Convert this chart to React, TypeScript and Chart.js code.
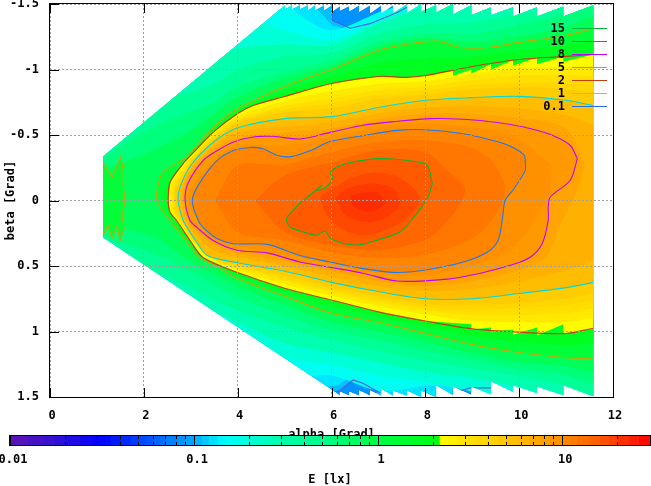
import React, { useEffect, useRef } from "react";
import { Chart, registerables } from "chart.js";

Chart.register(...registerables);

type Pt = [number, number];

const xTickValues = [0, 2, 4, 6, 8, 10, 12];
const yTickValues = [-1.5, -1, -0.5, 0, 0.5, 1, 1.5];
const FONT = '"DejaVu Sans Mono", monospace';

// Palette: value, r, g, b
const paletteStops: number[][] = [
  [0.01, 95, 20, 180], [0.02, 40, 15, 220], [0.0305, 0, 0, 255], [0.0447, 0, 50, 255],
  [0.1, 0, 170, 255], [0.146, 0, 255, 255], [0.2, 0, 255, 215], [0.3, 0, 255, 170],
  [0.543, 0, 255, 130], [1, 0, 255, 70], [2.0, 0, 255, 20], [2.12, 0, 255, 15],
  [2.15, 255, 255, 0], [3, 255, 225, 0], [4, 255, 210, 0], [5.85, 255, 185, 0],
  [9.9, 255, 140, 0], [16, 255, 90, 0], [30, 255, 0, 0],
];
const barEdges = [0.01, 0.0125, 0.015, 0.0175, 0.02, 0.024, 0.028, 0.0305, 0.035, 0.04, 0.045, 0.05, 0.055, 0.06, 0.065, 0.07, 0.08, 0.09, 0.1, 0.11, 0.12, 0.134, 0.146, 0.16, 0.18, 0.2, 0.23, 0.26, 0.3, 0.34, 0.38, 0.43, 0.48, 0.54, 0.62, 0.7, 0.8, 0.9, 1, 1.15, 1.3, 1.5, 1.75, 2, 2.15, 2.4, 2.7, 3, 3.4, 3.8, 4.4, 5, 5.85, 6.6, 7.5, 8.5, 9.9, 11, 12, 14, 16, 18, 20, 23, 26, 30];
const barTicks = [0.01, 0.02, 0.03, 0.04, 0.05, 0.06, 0.07, 0.08, 0.09, 0.1, 0.2, 0.3, 0.4, 0.5, 0.6, 0.7, 0.8, 0.9, 1, 2, 3, 4, 5, 6, 7, 8, 9, 10, 20, 30];
const barLabels = [0.01, 0.1, 1, 10];

// Outline of the sampled region (alpha, beta)
const envelope: Pt[] = [
  [1.13, -0.335], [4.84, -1.44], [5.01, -1.49], [5.01, -1.46], [5.16, -1.49], [5.16, -1.46], [5.33, -1.49], [5.33, -1.46], [5.5, -1.49], [5.5, -1.45], [5.65, -1.49], [5.65, -1.45], [5.84, -1.49], [5.84, -1.45], [6.01, -1.49], [6.01, -1.44], [6.18, -1.485], [6.18, -1.45], [6.38, -1.485], [6.38, -1.445], [6.59, -1.49], [6.59, -1.44], [6.82, -1.49], [6.82, -1.43], [7.06, -1.49], [7.06, -1.43], [7.31, -1.49], [7.31, -1.43], [7.61, -1.5], [7.61, -1.43], [7.91, -1.5], [7.91, -1.44], [8.23, -1.49], [8.23, -1.435], [8.59, -1.5], [8.59, -1.42], [8.98, -1.49], [8.98, -1.415], [9.4, -1.475], [9.4, -1.415], [9.87, -1.475], [9.87, -1.405], [10.38, -1.475], [10.38, -1.405], [10.94, -1.48], [10.94, -1.405], [11.58, -1.49],
  [11.58, 1.495], [10.94, 1.41], [10.94, 1.485], [10.38, 1.42], [10.38, 1.47], [9.87, 1.41], [9.87, 1.46], [9.4, 1.38], [9.4, 1.48], [8.98, 1.42], [8.98, 1.485], [8.59, 1.42], [8.59, 1.485], [8.23, 1.41], [8.23, 1.5], [7.91, 1.45], [7.91, 1.5], [7.61, 1.45], [7.61, 1.49], [7.31, 1.45], [7.31, 1.49], [7.06, 1.435], [7.06, 1.49], [6.82, 1.45], [6.82, 1.49], [6.59, 1.45], [6.59, 1.49], [6.38, 1.46], [6.38, 1.49], [6.18, 1.46], [6.18, 1.49], [6.01, 1.445], [5.93, 1.425], [1.13, 0.28],
];

// Labelled contours
const iso01a: Pt[] = [[6.01, -1.475], [6.01, -1.375], [6.4, -1.315], [6.82, -1.35], [7.4, -1.435], [7.61, -1.475]];
const iso01b: Pt[] = [[6.01, 1.465], [6.18, 1.45], [6.46, 1.37], [6.67, 1.395], [7.04, 1.47]];
const iso01c: Pt[] = [[8.74, 1.455], [8.96, 1.43], [9.45, 1.43], [9.87, 1.47]];
const iso1: Pt[] = [[11.58, -1.315], [11, -1.26], [10, -1.207], [9.35, -1.168], [8.75, -1.168], [8.3, -1.215], [7.73, -1.2], [7, -1.145], [6, -1.0], [5.07, -0.88], [4, -0.7], [3.5, -0.565], [3, -0.367], [2.92, -0.33], [2.41, -0.215], [2.28, -0.078], [2.28, 0.0], [2.35, 0.053], [2.56, 0.153], [2.84, 0.28], [3.2, 0.44], [3.52, 0.495], [4, 0.595], [5, 0.73], [6, 0.86], [7, 0.93], [8, 1.015], [9, 1.1], [10, 1.16], [11, 1.2], [11.58, 1.21]];
const iso1Island: Pt[] = [[1.13, -0.29], [1.32, -0.175], [1.43, -0.265], [1.51, -0.335], [1.56, -0.23], [1.56, -0.115], [1.6, 0], [1.535, 0.115], [1.58, 0.215], [1.49, 0.31], [1.43, 0.19], [1.32, 0.29], [1.24, 0.19], [1.13, 0.265]];
const iso2: Pt[] = [[11.58, -1.115], [11, -1.1], [10, -1.076], [9, -1.023], [8, -0.954], [7.6, -0.94], [7, -0.947], [6, -0.893], [5, -0.794], [4.33, -0.725], [4, -0.664], [3.5, -0.527], [3, -0.344], [2.84, -0.282], [2.56, -0.139], [2.52, 0], [2.56, 0.09], [2.7, 0.153], [2.985, 0.305], [3.26, 0.435], [4, 0.55], [5, 0.67], [6, 0.76], [7, 0.85], [8, 0.92], [9, 0.98], [10, 1.005], [11, 1.015], [11.58, 0.975]];
const iso5: Pt[] = [[11.58, -0.725], [11, -0.765], [10, -0.795], [9, -0.785], [8, -0.765], [7, -0.71], [6, -0.64], [5, -0.625], [4, -0.555], [3.5, -0.45], [3, -0.267], [2.77, -0.1], [2.73, 0], [2.84, 0.153], [3, 0.25], [3.13, 0.32], [3.35, 0.42], [4, 0.475], [5, 0.54], [6, 0.625], [7, 0.695], [8, 0.75], [9, 0.75], [10, 0.71], [11, 0.665], [11.58, 0.625]];
const iso8: Pt[] = [[11.24, -0.32], [11.09, -0.42], [10.73, -0.495], [10.23, -0.55], [9.53, -0.595], [8.81, -0.62], [8.1, -0.625], [7.4, -0.605], [6.67, -0.575], [5.97, -0.52], [5.33, -0.47], [4.75, -0.49], [4.33, -0.485], [3.9, -0.445], [3.56, -0.38], [3.26, -0.305], [2.94, -0.13], [2.88, 0], [2.985, 0.153], [3.13, 0.205], [3.475, 0.305], [3.99, 0.38], [4.63, 0.4], [5.33, 0.47], [5.97, 0.51], [6.67, 0.555], [7.4, 0.615], [8.46, 0.6], [9.17, 0.555], [9.81, 0.495], [10.23, 0.435], [10.49, 0.33], [10.62, 0.15], [10.62, 0.05], [10.66, -0.025], [11.09, -0.155], [11.24, -0.32]];
const iso10: Pt[] = [[10.13, -0.3], [10.11, -0.345], [9.87, -0.405], [9.53, -0.45], [8.81, -0.51], [8, -0.54], [7.4, -0.535], [6.67, -0.495], [5.97, -0.45], [5.54, -0.38], [5.12, -0.335], [4.84, -0.345], [4.54, -0.395], [4.26, -0.405], [3.9, -0.38], [3.56, -0.305], [3.2, -0.14], [3.03, 0], [3.16, 0.153], [3.26, 0.205], [3.56, 0.29], [3.9, 0.33], [4.63, 0.335], [5.33, 0.42], [5.97, 0.47], [6.67, 0.52], [7.4, 0.55], [8.1, 0.525], [8.81, 0.47], [9.32, 0.395], [9.55, 0.305], [9.64, 0.15], [9.7, 0], [9.87, -0.08], [10.13, -0.23], [10.13, -0.3]];
const iso15: Pt[] = [[8.15, -0.13], [8.04, -0.27], [7.74, -0.3], [7.04, -0.32], [6.4, -0.29], [6.12, -0.255], [5.97, -0.21], [6.03, -0.18], [5.86, -0.095], [5.69, -0.08], [5.8, -0.115], [5.48, -0.025], [5.33, 0.02], [5.05, 0.13], [5.05, 0.165], [5.12, 0.205], [5.48, 0.25], [5.69, 0.265], [5.86, 0.235], [5.97, 0.285], [6.18, 0.32], [6.57, 0.34], [7.04, 0.295], [7.46, 0.24], [7.72, 0.145], [8.04, -0.015], [8.15, -0.13]];

// Shading bands: outline of the region above each shade
const band010: Pt[] = [[1.1, -1.6], [5.8, -1.6], [6.01, -1.475], [6.01, -1.375], [6.4, -1.315], [6.82, -1.35], [7.4, -1.435], [7.61, -1.475], [7.8, -1.6], [11.6, -1.6], [11.6, 1.6], [10, 1.6], [9.87, 1.47], [9.45, 1.43], [8.96, 1.43], [8.74, 1.455], [8.6, 1.6], [7.2, 1.6], [7.04, 1.47], [6.67, 1.395], [6.46, 1.37], [6.18, 1.45], [6.01, 1.465], [5.85, 1.6], [1.1, 1.6]];
const band0125: Pt[] = [[1.1, -0.9], [5, -1.6], [5.6, -1.5], [6, -1.34], [6.4, -1.3], [6.82, -1.33], [7.4, -1.415], [7.7, -1.47], [8, -1.6], [11.6, -1.6], [11.6, 1.6], [10.2, 1.6], [9.9, 1.45], [9.45, 1.4], [8.96, 1.4], [8.6, 1.43], [8.4, 1.6], [7.2, 1.6], [6.9, 1.42], [6.6, 1.36], [6.4, 1.34], [6.15, 1.41], [5.9, 1.42], [5.7, 1.6], [1.1, 1.6]];
const band015: Pt[] = [[1.1, -0.8], [4.7, -1.6], [5.33, -1.415], [6, -1.3], [7, -1.435], [7.4, -1.49], [7.7, -1.6], [11.6, -1.6], [11.6, 1.6], [10.5, 1.6], [10.2, 1.525], [9.1, 1.465], [8.25, 1.41], [7, 1.45], [6, 1.335], [5, 1.36], [4, 1.3], [1.1, 0.7]];
const band018: Pt[] = [[1.1, -0.7], [3, -1.1], [4, -1.28], [4.3, -1.375], [5, -1.3], [6, -1.225], [7, -1.39], [7.61, -1.505], [8, -1.6], [11.6, -1.6], [11.6, 1.6], [9.9, 1.6], [9, 1.46], [8, 1.385], [7, 1.335], [6, 1.255], [5, 1.205], [4, 1.065], [3, 0.85], [1.1, 0.55]];
const band025: Pt[] = [[1.1, -0.6], [3, -0.995], [3.5, -1.085], [4, -1.16], [5, -1.19], [6, -1.185], [7, -1.345], [8, -1.475], [9, -1.51], [10, -1.6], [11.6, -1.6], [11.6, 1.6], [11, 1.51], [10, 1.43], [9, 1.355], [8, 1.31], [7, 1.235], [6, 1.16], [5, 1.09], [4, 0.93], [3, 0.76], [1.1, 0.5]];
const band035: Pt[] = [[1.1, -0.4], [2.35, -0.765], [3, -0.825], [3.5, -0.89], [4, -0.995], [5, -1.1], [6, -1.125], [7, -1.27], [8, -1.345], [9, -1.36], [10, -1.42], [11, -1.48], [11.6, -1.53], [11.6, 1.465], [11, 1.41], [10, 1.34], [9, 1.28], [8, 1.22], [7, 1.145], [6, 1.065], [5, 0.965], [4, 0.84], [3, 0.67], [1.1, 0.35]];
const band05: Pt[] = [[1.1, -0.31], [1.71, -0.46], [2.28, -0.575], [3, -0.675], [3.5, -0.75], [4, -0.865], [5, -0.98], [6, -1.07], [7, -1.21], [8, -1.275], [9, -1.27], [10, -1.34], [11, -1.42], [11.6, -1.475], [11.6, 1.37], [11, 1.335], [10, 1.285], [9, 1.22], [8, 1.145], [7, 1.065], [6, 0.99], [5, 0.875], [4, 0.74], [3.5, 0.645], [3, 0.545], [2.28, 0.415], [1.71, 0.34], [1.1, 0.27]];
const band07: Pt[] = [[1.1, -0.245], [1.71, -0.31], [2.28, -0.4], [3, -0.535], [3.5, -0.665], [4, -0.79], [5, -0.935], [6, -1.03], [7, -1.18], [8, -1.24], [9, -1.21], [10, -1.255], [11, -1.325], [11.6, -1.385], [11.6, 1.29], [11, 1.265], [10, 1.235], [9, 1.165], [8, 1.08], [7, 1.0], [6, 0.93], [5, 0.8], [4, 0.66], [3.5, 0.565], [3, 0.47], [2.28, 0.29], [1.71, 0.225], [1.1, 0.21]];
const band15: Pt[] = [[11.6, -1.215], [11, -1.185], [10, -1.145], [9, -1.1], [8, -1.085], [7, -1.05], [6, -0.95], [5, -0.835], [4, -0.69], [3.5, -0.55], [3, -0.355], [2.6, -0.17], [2.42, -0.08], [2.4, 0], [2.55, 0.12], [2.8, 0.26], [3, 0.325], [3.5, 0.48], [4, 0.57], [5, 0.7], [6, 0.805], [7, 0.885], [8, 0.96], [9, 1.035], [10, 1.08], [11, 1.105], [11.6, 1.09]];
const band2: Pt[] = [[11.58, -1.115], [10.94, -1.06], [10.94, -1.1], [10.38, -1.04], [10.38, -1.09], [9.87, -1.03], [9.87, -1.07], [9.4, -1.0], [9.4, -1.04], [8.98, -0.97], [8.98, -1.0], [8.59, -0.95], [8.59, -0.99], [8, -0.95], [7.6, -0.94], [7, -0.947], [6, -0.893], [5, -0.794], [4.33, -0.725], [4, -0.664], [3.5, -0.527], [3, -0.344], [2.84, -0.282], [2.56, -0.139], [2.52, 0], [2.56, 0.09], [2.7, 0.153], [2.985, 0.305], [3.26, 0.435], [4, 0.55], [5, 0.67], [6, 0.76], [7, 0.85], [8, 0.92], [8.98, 0.945], [8.98, 0.985], [9.4, 0.97], [9.4, 1.0], [9.87, 0.985], [9.87, 1.025], [10.38, 0.97], [10.38, 1.03], [10.94, 0.945], [10.94, 1.015], [11.58, 0.98]];
const band25: Pt[] = [[11.6, -1.025], [11, -1.02], [10, -1.01], [9, -0.965], [8, -0.91], [7, -0.89], [6, -0.835], [5, -0.76], [4, -0.645], [3.5, -0.515], [3, -0.33], [2.85, -0.26], [2.6, -0.13], [2.57, 0], [2.62, 0.1], [2.75, 0.16], [3, 0.295], [3.5, 0.46], [4, 0.53], [5, 0.64], [6, 0.725], [7, 0.805], [8, 0.87], [9, 0.92], [10, 0.93], [11, 0.93], [11.6, 0.89]];
const band3: Pt[] = [[11.6, -0.95], [11, -0.955], [10, -0.955], [9, -0.92], [8, -0.87], [7, -0.84], [6, -0.78], [5, -0.72], [4, -0.62], [3.5, -0.5], [3, -0.315], [2.87, -0.24], [2.64, -0.12], [2.61, 0], [2.66, 0.1], [2.78, 0.16], [3, 0.285], [3.5, 0.455], [4, 0.515], [5, 0.61], [6, 0.7], [7, 0.775], [8, 0.835], [9, 0.875], [10, 0.875], [11, 0.86], [11.6, 0.82]];
const band35: Pt[] = [[11.6, -0.88], [11, -0.895], [10, -0.9], [9, -0.88], [8, -0.84], [7, -0.805], [6, -0.74], [5, -0.695], [4, -0.605], [3.5, -0.48], [3, -0.3], [2.88, -0.22], [2.67, -0.11], [2.65, 0], [2.7, 0.1], [2.81, 0.16], [3, 0.27], [3.5, 0.45], [4, 0.5], [5, 0.595], [6, 0.68], [7, 0.755], [8, 0.815], [9, 0.835], [10, 0.82], [11, 0.8], [11.6, 0.76]];
const band4: Pt[] = [[11.6, -0.825], [11, -0.85], [10, -0.865], [9, -0.85], [8, -0.81], [7, -0.775], [6, -0.705], [5, -0.675], [4, -0.59], [3.5, -0.47], [3, -0.285], [2.88, -0.19], [2.7, -0.1], [2.67, 0], [2.75, 0.1], [2.84, 0.16], [3, 0.265], [3.5, 0.44], [4, 0.49], [5, 0.57], [6, 0.66], [7, 0.73], [8, 0.79], [9, 0.8], [10, 0.785], [11, 0.75], [11.6, 0.71]];
const band6: Pt[] = [[11.6, -0.575], [11, -0.65], [10, -0.705], [9, -0.72], [8, -0.71], [7, -0.665], [6, -0.6], [5, -0.565], [4, -0.52], [3.5, -0.42], [3, -0.24], [2.82, -0.09], [2.79, 0], [2.88, 0.13], [3, 0.22], [3.5, 0.385], [4, 0.43], [5, 0.5], [6, 0.58], [7, 0.655], [8, 0.69], [9, 0.675], [10, 0.615], [11, 0.53], [11.6, 0.455]];
const band7: Pt[] = [[11.41, -0.27], [11, -0.55], [10, -0.63], [9, -0.66], [8, -0.665], [7, -0.62], [6, -0.55], [5, -0.52], [4, -0.48], [3.5, -0.39], [3, -0.21], [2.86, -0.1], [2.84, 0], [2.93, 0.13], [3, 0.19], [3.5, 0.34], [4, 0.4], [5, 0.47], [6, 0.54], [7, 0.615], [8, 0.655], [9, 0.615], [10, 0.53], [10.55, 0.44], [10.87, 0.19], [11.19, -0.04]];
const band9: Pt[] = [[10.68, -0.27], [9.87, -0.5], [9, -0.56], [8, -0.59], [7, -0.56], [6, -0.485], [5, -0.415], [4, -0.42], [3.5, -0.31], [3, -0.095], [2.94, 0], [3.1, 0.12], [3.5, 0.295], [4, 0.345], [5, 0.41], [6, 0.485], [7, 0.555], [8, 0.57], [9, 0.5], [9.81, 0.38], [10.34, 0.15], [10.68, -0.08]];
const band115: Pt[] = [[3.52, 0], [4, -0.27], [5, -0.27], [6, -0.37], [7, -0.445], [8, -0.46], [9, -0.4], [9.49, -0.27], [9.7, -0.08], [9.49, 0.11], [9, 0.29], [8, 0.415], [7, 0.44], [6, 0.395], [5, 0.305], [4, 0.24], [3.52, 0]];
const band13: Pt[] = [[4.37, 0], [5, -0.19], [6, -0.29], [7, -0.385], [8, -0.37], [8.46, -0.23], [8.85, -0.08], [8.46, 0.165], [8, 0.3], [7, 0.38], [6, 0.34], [5, 0.24], [4.37, 0]];
const band17: Pt[] = [[5.76, -0.04], [6, -0.08], [6.4, -0.17], [7, -0.215], [7.46, -0.17], [7.78, -0.08], [7.89, 0], [7.68, 0.11], [7.25, 0.21], [6.72, 0.265], [6.18, 0.21], [5.86, 0.09], [5.76, -0.04]];
const band19: Pt[] = [[6.08, -0.025], [6.4, -0.1], [6.93, -0.13], [7.36, -0.08], [7.46, 0.035], [7.14, 0.135], [6.72, 0.165], [6.29, 0.11], [6.08, -0.025]];
const band21: Pt[] = [[6.4, -0.04], [6.93, -0.065], [7.14, 0.02], [6.82, 0.09], [6.44, 0.035], [6.4, -0.04]];

const fillOrder: [Pt[], number][] = [
  [envelope, 0.085], [band010, 0.11], [band0125, 0.13], [band015, 0.16], [band018, 0.2], [band025, 0.29], [band035, 0.41], [band05, 0.59], [band07, 0.83],
  [iso1, 1.2], [iso1Island, 1.2], [band15, 1.7], [band2, 2.25], [band25, 2.75], [band3, 3.2], [band35, 3.7], [band4, 4.4], [iso5, 5.5], [band6, 6.5], [band7, 7.5], [iso8, 8.5], [band9, 9.5], [iso10, 10.7], [band115, 12.2], [band13, 14], [iso15, 16], [band17, 18], [band19, 20], [band21, 22],
];
const sharpOutlines: Pt[][] = [envelope, band010, band0125, band2, iso1Island, iso01a, iso01b, iso01c];

const contourLines: [Pt[], string][] = [
  [iso15, "#00b832"], [iso10, "#1e78f0"], [iso8, "#c000ff"], [iso5, "#00d8e0"], [iso2, "#c83c0a"], [iso1, "#c8a800"], [iso1Island, "#c8a800"], [iso01a, "#5060dc"], [iso01b, "#5060dc"], [iso01c, "#5060dc"],
];
const legendLabels = ["15", "10", "8", "5", "2", "1", "0.1"];
const legendColors = ["#00b832", "#1e78f0", "#c000ff", "#00d8e0", "#c83c0a", "#c8c800", "#2a6ee6"];

function shade(v: number): string {
  const t = Math.log10(v);
  for (let i = 1; i < paletteStops.length; i++) {
    const a = paletteStops[i - 1];
    const b = paletteStops[i];
    if (v <= b[0]) {
      const la = Math.log10(a[0]);
      const f = (t - la) / (Math.log10(b[0]) - la);
      const c = [1, 2, 3].map((k) => Math.round(a[k] + (b[k] - a[k]) * f));
      return `rgb(${c[0]},${c[1]},${c[2]})`;
    }
  }
  return "rgb(255,0,0)";
}

const toXY = (pts: Pt[]) => pts.map(([x, y]) => ({ x, y }));
const curve = (pts: Pt[]) => (sharpOutlines.includes(pts) ? 0 : 0.3);

const mainPlugin = {
  id: "mapDecor",
  beforeDatasetsDraw(chart: any) {
    const { ctx, scales } = chart;
    ctx.save();
    ctx.beginPath();
    envelope.forEach(([a, b], i) => {
      const px = scales.x.getPixelForValue(a);
      const py = scales.y.getPixelForValue(b);
      if (i === 0) ctx.moveTo(px, py);
      else ctx.lineTo(px, py);
    });
    ctx.closePath();
    ctx.clip();
  },
  afterDatasetsDraw(chart: any) {
    chart.ctx.restore();
  },
  afterDraw(chart: any) {
    const { ctx, scales, chartArea: ca } = chart;
    ctx.save();
    ctx.strokeStyle = "#000";
    ctx.lineWidth = 1;
    ctx.beginPath();
    xTickValues.forEach((v) => {
      const p = Math.round(scales.x.getPixelForValue(v)) + 0.5;
      ctx.moveTo(p, ca.top);
      ctx.lineTo(p, ca.top + 9);
      ctx.moveTo(p, ca.bottom);
      ctx.lineTo(p, ca.bottom - 9);
    });
    yTickValues.forEach((v) => {
      const p = Math.round(scales.y.getPixelForValue(v)) + 0.5;
      ctx.moveTo(ca.left, p);
      ctx.lineTo(ca.left + 9, p);
    });
    ctx.stroke();
    ctx.strokeRect(ca.left - 0.5, ca.top - 0.5, ca.right - ca.left + 1, ca.bottom - ca.top + 1);

    ctx.font = `bold 12px ${FONT}`;
    ctx.textAlign = "right";
    ctx.textBaseline = "middle";
    legendLabels.forEach((label, i) => {
      const y = 28.5 + 13 * i;
      ctx.fillStyle = "#000";
      ctx.fillText(label, 565, y);
      ctx.strokeStyle = legendColors[i];
      ctx.beginPath();
      ctx.moveTo(572, y);
      ctx.lineTo(607, y);
      ctx.stroke();
    });
    ctx.restore();
  },
};

const framePlugin = {
  id: "barFrame",
  afterDraw(chart: any) {
    const { ctx, chartArea: ca } = chart;
    ctx.save();
    ctx.strokeStyle = "#000";
    ctx.lineWidth = 1;
    ctx.strokeRect(ca.left - 0.5, ca.top - 0.5, ca.right - ca.left + 1, ca.bottom - ca.top + 1);
    ctx.restore();
  },
};

export default function App() {
  const mainRef = useRef<HTMLCanvasElement>(null);
  const barRef = useRef<HTMLCanvasElement>(null);

  useEffect(() => {
    const lineSets = contourLines.map(([pts, color]) => ({
      data: toXY(pts),
      showLine: true,
      borderColor: color,
      borderWidth: 1.1,
      pointRadius: 0,
      tension: curve(pts),
      fill: false,
    }));
    const fillSets = [...fillOrder].reverse().map(([pts, v]) => ({
      data: toXY(pts),
      showLine: true,
      borderWidth: 0,
      borderColor: "transparent",
      backgroundColor: shade(v),
      pointRadius: 0,
      tension: curve(pts),
      fill: "shape",
    }));

    const main = new Chart(mainRef.current!, {
      type: "scatter",
      data: { datasets: [...lineSets, ...fillSets] as any },
      plugins: [mainPlugin],
      options: {
        responsive: false,
        animation: false,
        events: [],
        layout: { padding: { top: 4, right: 38, left: 0, bottom: 0 } },
        plugins: { legend: { display: false }, tooltip: { enabled: false } },
        scales: {
          x: {
            type: "linear",
            min: 0,
            max: 12,
            afterBuildTicks: (s: any) => { s.ticks = xTickValues.map((value) => ({ value })); },
            afterFit: (s: any) => { s.height = 89; s.paddingLeft = 0; s.paddingRight = 0; },
            grid: { color: "#a0a0a0", z: 1, drawTicks: false, lineWidth: 1 },
            border: { display: false, dash: [2, 2] },
            ticks: { color: "#000", padding: 12, labelOffset: 2, maxRotation: 0, font: { family: FONT, weight: "bold", size: 12 }, callback: (v: any) => String(v) },
            title: { display: true, text: "alpha [Grad]", color: "#000", padding: { top: 0, bottom: 45 }, font: { family: FONT, weight: "bold", size: 12, lineHeight: 1 } },
          },
          y: {
            type: "linear",
            reverse: true,
            min: -1.5,
            max: 1.5,
            afterBuildTicks: (s: any) => { s.ticks = yTickValues.map((value) => ({ value })); },
            afterFit: (s: any) => { s.width = 50; s.paddingTop = 0; s.paddingBottom = 0; },
            grid: { color: "#a0a0a0", z: 1, drawTicks: false, lineWidth: 1 },
            border: { display: false, dash: [2, 2] },
            ticks: { color: "#000", padding: 11, font: { family: FONT, weight: "bold", size: 12 }, callback: (v: any) => String(v) },
            title: { display: true, text: "beta [Grad]", color: "#000", padding: { top: 5, bottom: 0 }, font: { family: FONT, weight: "bold", size: 12, lineHeight: 1 } },
          },
        },
      } as any,
    });

    const barSets = barEdges.slice(1).map((hi, i) => ({
      data: [[barEdges[i], hi]],
      backgroundColor: shade(Math.sqrt(barEdges[i] * hi)),
      borderWidth: 0,
      barPercentage: 1,
      categoryPercentage: 1,
      grouped: false,
    }));

    const bar = new Chart(barRef.current!, {
      type: "bar",
      data: { labels: ["E"], datasets: barSets as any },
      plugins: [framePlugin],
      options: {
        indexAxis: "y",
        responsive: false,
        animation: false,
        events: [],
        layout: { padding: { top: 436, left: 10, right: 1, bottom: 0 } },
        plugins: { legend: { display: false }, tooltip: { enabled: false } },
        scales: {
          y: { display: false, grid: { display: false } },
          x: {
            type: "logarithmic",
            min: 0.01,
            max: 30,
            afterBuildTicks: (s: any) => { s.ticks = barTicks.map((value) => ({ value })); },
            afterFit: (s: any) => { s.height = 41; s.paddingLeft = 0; s.paddingRight = 0; },
            grid: { color: "#000", z: 1, drawTicks: false, lineWidth: 1 },
            border: {
              display: false,
              dash: (c: any) => (c.tick && barLabels.includes(c.tick.value) ? [] : [3, 3]),
            },
            ticks: {
              autoSkip: false,
              maxRotation: 0,
              color: "#000",
              padding: 8,
              labelOffset: 3,
              font: { family: FONT, weight: "bold", size: 12 },
              callback: (v: any) => (barLabels.includes(Number(v)) ? String(v) : ""),
            },
            title: { display: true, text: "E [lx]", color: "#000", padding: { top: 0, bottom: 0 }, font: { family: FONT, weight: "bold", size: 12, lineHeight: 1 } },
          },
        },
      } as any,
    });

    return () => {
      main.destroy();
      bar.destroy();
    };
  }, []);

  return (
    <div style={{ position: "absolute", left: 0, top: 0, width: 651, height: 486, overflow: "hidden", background: "#fff" }}>
      <canvas ref={mainRef} width={651} height={486} style={{ position: "absolute", left: 0, top: 0, display: "block" }} />
      <canvas ref={barRef} width={651} height={486} style={{ position: "absolute", left: 0, top: 0, display: "block" }} />
    </div>
  );
}
